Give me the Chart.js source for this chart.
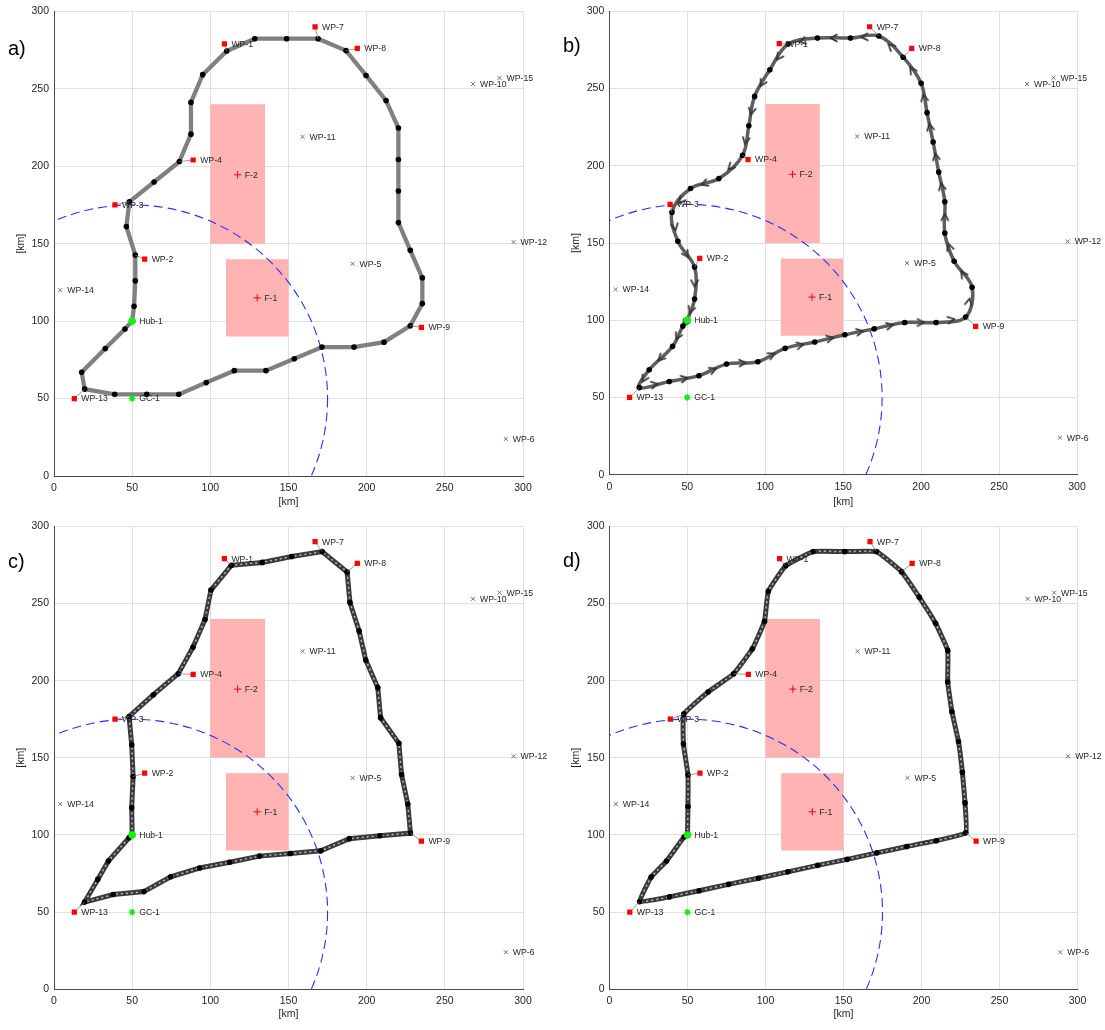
<!DOCTYPE html>
<html>
<head>
<meta charset="utf-8">
<script src="https://cdn.jsdelivr.net/npm/chart.js@4.4.1/dist/chart.umd.min.js"></script>
<style>
  body { margin: 0; background: #fff; }
  #wrap { position: relative; width: 1105px; height: 1030px; }
  canvas { position: absolute; }
</style>
</head>
<body>
<div id="wrap">
  <canvas id="panel-a" width="552" height="515" style="left:0;top:0"></canvas>
  <canvas id="panel-b" width="553" height="515" style="left:552px;top:0"></canvas>
  <canvas id="panel-c" width="552" height="515" style="left:0;top:515px"></canvas>
  <canvas id="panel-d" width="553" height="515" style="left:552px;top:515px"></canvas>
</div>
<script>
// Waypoints that the route visits (red squares)
const visitedNames = ['WP-1', 'WP-2', 'WP-3', 'WP-4', 'WP-7', 'WP-8', 'WP-9', 'WP-13'];
const visitedX = [109, 58, 39, 89, 167, 194, 235, 13];
const visitedY = [279, 140, 175, 204, 290, 276, 96, 50];

// Waypoints left out (grey crosses)
const openNames = ['WP-5', 'WP-6', 'WP-10', 'WP-11', 'WP-12', 'WP-14', 'WP-15'];
const openX = [191, 289, 268, 159, 294, 4, 285];
const openY = [137, 24, 253, 219, 151, 120, 257];

// Fires and their no-fly boxes [xmin, xmax, ymin, ymax]
const fireNames = ['F-1', 'F-2'];
const fireX = [130, 117.5];
const fireY = [115, 194.5];
const fireBoxes = [[110, 150, 90, 140], [100, 135, 150, 240]];

// Hub and ground control
const hubName = 'Hub-1';
const hubX = 50, hubY = 100;
const gcName = 'GC-1';
const gcX = 50, gcY = 50;

// Ground control range (dashed circle)
const rangeRadius = 125;

const axisTicks = [0, 50, 100, 150, 200, 250, 300];

// Routes, one per panel, [x, y] in km
const pathA = [[50, 100], [45.4, 94.9], [32.8, 82.3], [17.7, 67], [19.6, 56.1], [38.8, 52.7], [59.3, 52.7],
  [79.8, 52.7], [97.4, 60.3], [115.3, 68], [135.6, 68], [153.7, 75.7], [171.4, 83.2], [191.9, 83.2],
  [211.1, 86.4], [227.9, 97], [235.6, 111.3], [235.6, 127.9], [227.9, 145.7], [220.3, 163.6], [220.3, 184],
  [220.3, 204.3], [220.3, 224.7], [212.4, 242.4], [199.6, 258.6], [186.8, 274.6], [168.9, 282.3],
  [148.8, 282.3], [128.4, 282.3], [110.5, 274.4], [95.1, 259.1], [87.6, 241.2], [87.6, 220.7], [80.2, 203],
  [64, 189.8], [48.2, 177], [46.3, 161], [52, 142.6], [52, 126], [51.2, 109.6], [50, 100]];

const pathB = [[50, 100], [47.2, 96.2], [40.6, 83.1], [25.6, 67.9], [19.2, 56.4], [38.5, 60.3], [57.5, 64.1],
  [75.2, 71.6], [95.3, 73.1], [112.8, 81.8], [131.8, 85.9], [151.1, 90.6], [169.9, 94.4], [189.5, 98.5],
  [209.6, 98.5], [228.6, 102.1], [232.7, 121.4], [221.2, 138.2], [215.2, 156.4], [215.2, 176.7],
  [211.3, 195.9], [207.7, 215.4], [203.8, 234.4], [200, 253.4], [188.5, 270.3], [172.9, 284], [154.7, 282.7],
  [133.5, 282.7], [114.7, 278.8], [103, 262.2], [93.2, 244.9], [89.5, 225.9], [85.5, 206.8], [70.3, 191.7],
  [52.1, 185.3], [40.2, 169.9], [44, 151.1], [54.7, 134.4], [54.7, 113.7], [50, 100]];

const pathC = [[50, 100], [48, 98.2], [34.8, 83.1], [28, 71.2], [19.6, 56.5], [37.9, 61.4], [57.5, 63.3],
  [74.6, 72.9], [93.1, 78.6], [112.3, 82.3], [131.4, 86.3], [151.2, 88], [170.6, 89.7], [188.9, 97.6],
  [208.4, 99.5], [228, 101.2], [226.3, 120], [222.3, 139.1], [220.6, 159.4], [208.9, 176], [207.1, 195.5],
  [199.4, 213.4], [195.2, 232.1], [189.3, 250.6], [187.5, 270.4], [171.5, 283.6], [152.1, 280.4],
  [133.2, 276.6], [113.4, 274.7], [100.4, 258.7], [96.6, 239.6], [88.9, 221.7], [79.5, 204.5], [63.6, 190.9],
  [48, 176.8], [49.7, 158.5], [50.6, 137.9], [49.7, 117.6], [50, 100]];

const pathD = [[50, 100], [47.8, 98.7], [36.5, 83.1], [26.7, 72.7], [19.3, 56.7], [38.5, 59.9], [57.4, 63.9],
  [76.3, 68], [95.4, 72], [114.3, 76.1], [133.4, 80.3], [152.3, 84.2], [171.4, 88.4], [190.6, 92.5],
  [209.5, 96.3], [228.4, 101.4], [227.9, 120.8], [226.2, 140.6], [223.7, 160.6], [219.5, 179.8],
  [216.8, 199.1], [216.8, 219.6], [209, 237.2], [198.6, 254], [187.2, 270.6], [171.2, 283.6], [150.8, 283.6],
  [130.5, 283.6], [113, 274.5], [101.8, 257.9], [99.4, 238.5], [91.6, 220.6], [79.6, 204.5], [63.2, 192.6],
  [47.6, 178.3], [47.4, 158.9], [50.3, 138.9], [50.3, 118.5], [50, 100]];

const FONT = '"Liberation Sans", Arial, Helvetica, sans-serif';
const TEXT = '#262626';

// small arrow head used on the route of panel b
function makeChevron() {
    const c = document.createElement('canvas');
    c.width = 12; c.height = 12;
    const g = c.getContext('2d');
    g.strokeStyle = '#333333';
    g.lineWidth = 1.7;
    g.beginPath();
    g.moveTo(2.5, 2.3); g.lineTo(9.5, 6); g.lineTo(2.5, 9.7);
    g.stroke();
    return c;
}
const chevron = makeChevron();

function nearestPoint(path, x, y) {
    let best = path[0], bestD = Infinity;
    path.forEach(p => {
        const d = (p[0] - x) ** 2 + (p[1] - y) ** 2;
        if (d < bestD) { bestD = d; best = p; }
    });
    return best;
}

// dashed range circle, drawn right after the fire boxes
const rangePlugin = {
    id: 'range',
    afterDatasetDraw(chart, args) {
        if (chart.data.datasets[args.index].role !== 'lastBox') return;
        const {ctx, chartArea, scales: {x, y}} = chart;
        const cx = x.getPixelForValue(gcX), cy = y.getPixelForValue(gcY);
        const rx = Math.abs(x.getPixelForValue(gcX + rangeRadius) - cx);
        const ry = Math.abs(y.getPixelForValue(gcY + rangeRadius) - cy);
        ctx.save();
        ctx.beginPath();
        ctx.rect(chartArea.left, chartArea.top, chartArea.right - chartArea.left, chartArea.bottom - chartArea.top);
        ctx.clip();
        ctx.beginPath();
        ctx.ellipse(cx, cy, rx, ry, 0, 0, Math.PI * 2);
        ctx.setLineDash([9, 5]);
        ctx.strokeStyle = 'rgb(45,45,255)';
        ctx.lineWidth = 1.1;
        ctx.stroke();
        ctx.restore();
    }
};

// names next to markers
const labelPlugin = {
    id: 'names',
    afterDatasetsDraw(chart) {
        const {ctx, scales: {x, y}} = chart;
        ctx.save();
        ctx.font = '8.7px ' + FONT;
        ctx.fillStyle = TEXT;
        ctx.textBaseline = 'middle';
        const put = (names, xs, ys) => names.forEach((n, i) => {
            ctx.fillText(n, x.getPixelForValue(xs[i]) + 7, y.getPixelForValue(ys[i]) + 0.5);
        });
        put(visitedNames, visitedX, visitedY);
        put(openNames, openX, openY);
        put(fireNames, fireX, fireY);
        put([hubName, gcName], [hubX, gcX], [hubY, gcY]);
        ctx.restore();
    }
};

const letterPlugin = {
    id: 'letter',
    afterDraw(chart) {
        const o = chart.options.plugins.letter;
        const ctx = chart.ctx;
        ctx.save();
        ctx.font = '20px ' + FONT;
        ctx.fillStyle = '#000';
        ctx.textBaseline = 'middle';
        ctx.fillText(o.text, o.x, o.y);
        ctx.restore();
    }
};

function buildPanel(id, path, look, box) {
    const pts = path.map(p => ({x: p[0], y: p[1]}));
    const datasets = [];

    fireBoxes.forEach((b, i) => datasets.push({
        role: i === fireBoxes.length - 1 ? 'lastBox' : 'box',
        data: [{x: b[0], y: b[2]}, {x: b[1], y: b[2]}, {x: b[1], y: b[3]}, {x: b[0], y: b[3]}, {x: b[0], y: b[2]}],
        showLine: true, fill: 'shape', backgroundColor: '#ffb3b3',
        borderColor: 'rgba(0,0,0,0)', borderWidth: 0, pointRadius: 0, order: 40 - i
    }));

    if (look === 'plain') {
        datasets.push({data: pts, showLine: true, borderColor: '#808080', borderWidth: 4.3,
            pointRadius: 0, tension: 0, order: 20});
    } else if (look === 'arrows') {
        datasets.push({data: pts, showLine: true, borderColor: '#5e5e5e', borderWidth: 3.5,
            pointRadius: 0, tension: 0.35, order: 20});
        const mids = [], rot = [];
        for (let i = 0; i < path.length - 1; i++) {
            const [x1, y1] = path[i], [x2, y2] = path[i + 1];
            mids.push({x: (x1 + x2) / 2, y: (y1 + y2) / 2});
            rot.push(Math.atan2(-(y2 - y1), x2 - x1) * 180 / Math.PI);
        }
        datasets.push({data: mids, showLine: false, pointStyle: chevron, rotation: rot,
            pointRadius: 5, order: 18});
    } else {
        const t = look === 'smooth' ? 0.1 : 0;
        datasets.push({data: pts, showLine: true, borderColor: '#3a3a3a', borderWidth: 5,
            pointRadius: 0, tension: t, order: 20});
        datasets.push({data: pts, showLine: true, borderColor: '#b8b8b8', borderWidth: 1.5,
            borderDash: [2, 3], pointRadius: 0, tension: t, order: 19});
    }

    // route nodes
    datasets.push({data: pts, showLine: false, pointRadius: 2.8, backgroundColor: '#000',
        borderWidth: 0, order: 15});

    // thin links from visited waypoints to the route
    visitedNames.forEach((n, i) => {
        const q = nearestPoint(path, visitedX[i], visitedY[i]);
        datasets.push({data: [{x: visitedX[i], y: visitedY[i]}, {x: q[0], y: q[1]}], showLine: true,
            borderColor: '#808080', borderWidth: 0.8, pointRadius: 0, order: 12});
    });

    datasets.push({data: visitedX.map((v, i) => ({x: v, y: visitedY[i]})), pointStyle: 'rect',
        pointRadius: 3.7, backgroundColor: '#ff0000', borderWidth: 0, order: 5});
    datasets.push({data: openX.map((v, i) => ({x: v, y: openY[i]})), pointStyle: 'crossRot',
        pointRadius: 2.8, borderColor: '#6e6e6e', borderWidth: 1, order: 5});
    datasets.push({data: fireX.map((v, i) => ({x: v, y: fireY[i]})), pointStyle: 'cross',
        pointRadius: 3.6, borderColor: '#ff0000', borderWidth: 1, order: 5});
    datasets.push({data: [{x: hubX, y: hubY}], pointStyle: 'circle', pointRadius: 3.4,
        backgroundColor: '#00ff00', borderColor: '#22dd22', borderWidth: 1, order: 4});
    datasets.push({data: [{x: gcX, y: gcY}], pointStyle: 'star', pointRadius: 3.2,
        borderColor: '#00ee00', borderWidth: 1.4, order: 4});

    const tickFont = {family: FONT, size: 10.5};
    const grid = {color: '#e0e0e0', lineWidth: 1, drawTicks: false};

    return new Chart(document.getElementById(id), {
        type: 'scatter',
        data: {datasets},
        plugins: [rangePlugin, labelPlugin, letterPlugin],
        options: {
            responsive: false,
            animation: false,
            events: [],
            layout: {padding: {top: box.top, right: box.w - box.right, left: 0, bottom: 0}},
            plugins: {
                legend: {display: false},
                tooltip: {enabled: false},
                letter: {text: box.letter, x: box.lx, y: box.ly}
            },
            scales: {
                x: {
                    type: 'linear', min: 0, max: 300,
                    afterBuildTicks: s => { s.ticks = axisTicks.map(v => ({value: v})); },
                    afterFit: s => { s.height = box.h - box.bottom; },
                    grid, border: {color: '#4a4a4a', width: 1},
                    ticks: {font: tickFont, color: TEXT, padding: 6, maxRotation: 0},
                    title: {display: true, text: '[km]', font: tickFont, color: TEXT,
                        padding: {top: 0, bottom: box.tb}}
                },
                y: {
                    type: 'linear', min: 0, max: 300,
                    afterBuildTicks: s => { s.ticks = axisTicks.map(v => ({value: v})); },
                    afterFit: s => { s.width = box.left; },
                    grid, border: {color: '#4a4a4a', width: 1},
                    ticks: {font: tickFont, color: TEXT, padding: 5},
                    title: {display: true, text: '[km]', font: tickFont, color: TEXT,
                        padding: {top: box.tl, bottom: 0}}
                }
            }
        }
    });
}

buildPanel('panel-a', pathA, 'plain',
    {w: 552, h: 515, left: 54, right: 523, top: 7.5, bottom: 476, tb: 7, tl: 15, letter: 'a)', lx: 8, ly: 49});
buildPanel('panel-b', pathB, 'arrows',
    {w: 553, h: 515, left: 57.3, right: 525, top: 6.7, bottom: 474.7, tb: 7, tl: 18, letter: 'b)', lx: 11, ly: 46});
buildPanel('panel-c', pathC, 'dense',
    {w: 552, h: 515, left: 54, right: 523, top: 5.3, bottom: 474.3, tb: 10, tl: 15, letter: 'c)', lx: 8, ly: 47});
buildPanel('panel-d', pathD, 'smooth',
    {w: 553, h: 515, left: 57.5, right: 525.5, top: 5.3, bottom: 474.3, tb: 10, tl: 18, letter: 'd)', lx: 11, ly: 46});
</script>
</body>
</html>
